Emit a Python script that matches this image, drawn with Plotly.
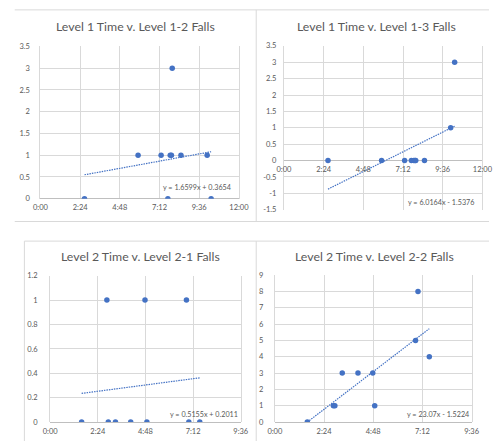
import numpy as np
import plotly.graph_objects as go

# ---- data ----
level1_time = [0.111, 0.246, 0.304, 0.321, 0.327, 0.330, 0.332, 0.354, 0.420, 0.430]  # fraction of day
level1_2_falls = [0, 1, 1, 0, 1, 1, 3, 1, 1, 0]
level1_3_falls = [0, 0, 0, 0, 0, 0, 0, 0, 1, 3]

level2_time = [0.066, 0.119, 0.122, 0.137, 0.169, 0.199, 0.203, 0.286, 0.291, 0.314]
level2_1_falls = [0, 1, 0, 0, 0, 1, 0, 1, 0, 0]
level2_2_falls = [0, 1, 1, 3, 3, 3, 1, 5, 8, 4]

titles = ["Level 1 Time v. Level 1-2 Falls", "Level 1 Time v. Level 1-3 Falls",
          "Level 2 Time v. Level 2-1 Falls", "Level 2 Time v. Level 2-2 Falls"]
trend_slope = [1.6599, 6.0164, 0.5155, 23.07]
trend_intercept = [0.3654, -1.5376, 0.2011, -1.5224]
equations = ["y = 1.6599x + 0.3654", "y = 6.0164x - 1.5376",
             "y = 0.5155x + 0.2011", "y = 23.07x - 1.5224"]

time_ticks_l1 = [0, 0.1, 0.2, 0.3, 0.4, 0.5]
time_labels_l1 = ["0:00", "2:24", "4:48", "7:12", "9:36", "12:00"]
time_ticks_l2 = [0, 0.1, 0.2, 0.3, 0.4]
time_labels_l2 = ["0:00", "2:24", "4:48", "7:12", "9:36"]

y_ticks_1 = [0, 0.5, 1, 1.5, 2, 2.5, 3, 3.5]
y_labels_1 = ["0", "0.5", "1", "1.5", "2", "2.5", "3", "3.5"]
y_ticks_2 = [-1.5, -1, -0.5, 0, 0.5, 1, 1.5, 2, 2.5, 3, 3.5]
y_labels_2 = ["-1.5", "-1", "-0.5", "0", "0.5", "1", "1.5", "2", "2.5", "3", "3.5"]
y_ticks_3 = [0, 0.2, 0.4, 0.6, 0.8, 1, 1.2]
y_labels_3 = ["0", "0.2", "0.4", "0.6", "0.8", "1", "1.2"]
y_ticks_4 = list(range(0, 10))
y_labels_4 = [str(v) for v in y_ticks_4]

# ---- figure ----
W, H = 499, 446
def px(x): return x / W
def py(y): return 1 - y / H

BLUE = "#4472C4"
GRID = "#d9d9d9"
TXT = "#595959"
FONT = "Lato"

panels = [
    dict(x=level1_time, y=level1_2_falls, xd=(34.6, 240.1), yd=(43.3, 198.7),
         xr=[0, 0.5], yr=[0, 3.5], xt=(time_ticks_l1, time_labels_l1), yt=(y_ticks_1, y_labels_1),
         title_xy=(133, 23), eq_xy=(197, 187), ystand=8),
    dict(x=level1_time, y=level1_3_falls, xd=(286.7, 492.2), yd=(42.7, 210.0),
         xr=[0, 0.5], yr=[-1.5, 3.5], xt=(time_ticks_l1, time_labels_l1), yt=(y_ticks_2, y_labels_2),
         title_xy=(383, 23), eq_xy=(449, 202.5), ystand=5),
    dict(x=level2_time, y=level2_1_falls, xd=(44.7, 242.0), yd=(277.3, 426.7),
         xr=[0, 0.4], yr=[0, 1.2], xt=(time_ticks_l2, time_labels_l2), yt=(y_ticks_3, y_labels_3),
         title_xy=(138, 258), eq_xy=(204, 419), ystand=10),
    dict(x=level2_time, y=level2_2_falls, xd=(277.3, 481.0), yd=(276.7, 426.7),
         xr=[0, 0.4], yr=[0, 9], xt=(time_ticks_l2, time_labels_l2), yt=(y_ticks_4, y_labels_4),
         title_xy=(380, 258), eq_xy=(446, 418.5), ystand=9),
]

fig = go.Figure()
layout = dict(width=W, height=H, margin=dict(l=0, r=0, t=0, b=0),
              paper_bgcolor="white", plot_bgcolor="white", showlegend=False,
              font=dict(family=FONT, color=TXT))
annotations = []

for i, p in enumerate(panels):
    n = "" if i == 0 else str(i + 1)
    xa, ya = "x" + n, "y" + n
    fig.add_trace(go.Scatter(x=p["x"], y=p["y"], mode="markers", xaxis=xa, yaxis=ya,
                             marker=dict(color=BLUE, size=5.5), hoverinfo="skip"))
    xs = np.array([min(p["x"]), max(p["x"])])
    ys = trend_slope[i] * xs + trend_intercept[i]
    fig.add_trace(go.Scatter(x=xs, y=ys, mode="lines", xaxis=xa, yaxis=ya,
                             line=dict(color=BLUE, width=1.2, dash="1.5px,1px"), hoverinfo="skip"))
    xaxis = dict(domain=[px(p["xd"][0]), px(p["xd"][1])], range=p["xr"], anchor=ya,
                 tickmode="array", tickvals=p["xt"][0], ticktext=p["xt"][1],
                 showgrid=True, gridcolor=GRID, gridwidth=1, zeroline=False,
                 showline=False, ticks="", ticklabelstandoff=3,
                 tickfont=dict(size=7.5, color=TXT, family=FONT))
    if i == 1:
        # horizontal axis crosses at y = 0
        y0 = p["yd"][1] - (0 - p["yr"][0]) / (p["yr"][1] - p["yr"][0]) * (p["yd"][1] - p["yd"][0])
        xaxis.update(anchor="free", position=py(y0))
    yaxis = dict(domain=[py(p["yd"][1]), py(p["yd"][0])], range=p["yr"], anchor=xa,
                 tickmode="array", tickvals=p["yt"][0], ticktext=p["yt"][1],
                 showgrid=True, gridcolor=GRID, gridwidth=1, zeroline=True,
                 zerolinecolor="#bfbfbf", zerolinewidth=1,
                 showline=True, linecolor=GRID, linewidth=1, mirror=True, ticks="",
                 ticklabelstandoff=p["ystand"], tickfont=dict(size=7.5, color=TXT, family=FONT))
    layout["xaxis" + n] = xaxis
    layout["yaxis" + n] = yaxis
    annotations.append(dict(text=titles[i], xref="paper", yref="paper",
                            x=px(p["title_xy"][0]), y=py(p["title_xy"][1]),
                            xanchor="center", yanchor="middle", showarrow=False,
                            font=dict(size=12.3, color=TXT, family=FONT)))
    annotations.append(dict(text=equations[i], xref="paper", yref="paper",
                            x=px(p["eq_xy"][0]), y=py(p["eq_xy"][1]),
                            xanchor="center", yanchor="middle", showarrow=False,
                            font=dict(size=7.2, color=TXT, family=FONT)))

shapes = []
def line(x0, y0, x1, y1):
    shapes.append(dict(type="line", xref="paper", yref="paper",
                       x0=px(x0), y0=py(y0), x1=px(x1), y1=py(y1),
                       line=dict(color=GRID, width=1)))
# chart area borders
line(8, 6, 499, 6)
line(258, 6, 258, 222)
line(8, 222, 499, 222)
line(18, 242, 499, 242)
line(18, 242, 18, 446)
line(258, 242, 258, 446)

layout["annotations"] = annotations
layout["shapes"] = shapes
fig.update_layout(**layout)
fig.write_html("out.html", config={"displayModeBar": False},
               post_script="document.body.style.margin='0px';document.body.style.padding='0px';")
